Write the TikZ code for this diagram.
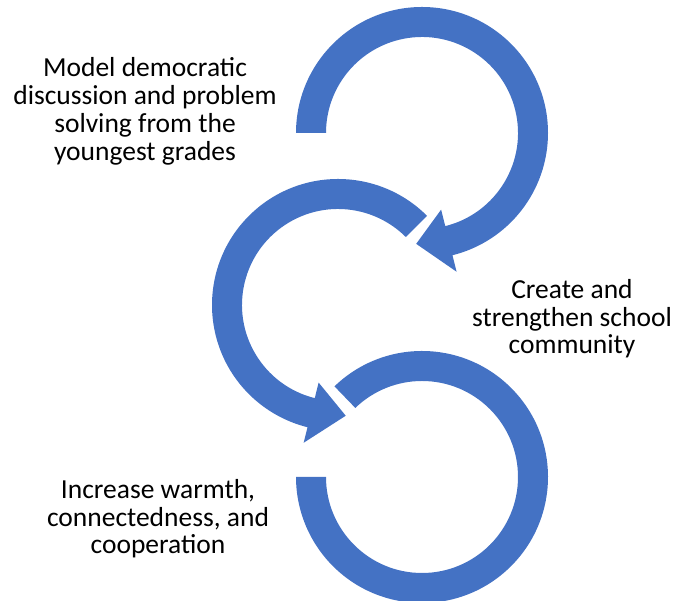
\documentclass[tikz,border=0pt]{standalone}
\usepackage{fontspec}
\setmainfont{Carlito}
\usepackage{tikz}
\usetikzlibrary{positioning}
\definecolor{loopblue}{HTML}{4472C4}
\tikzset{band/.style = {fill = loopblue, draw = none}}
\tikzset{label/.style = {align = center, inner sep = 0,
                         font = \fontsize{27.5}{27.8}\selectfont}}

\begin{document}
\begin{tikzpicture}[x = 1pt, y = 1pt]
    \useasboundingbox (0, 0) rectangle (675, 601);
    \coordinate (top) at (422, 468);
    \coordinate (mid) at (338, 296);
    \coordinate (low) at (422, 124);
    % upper loop, clockwise
    \begin{scope}[shift = {(top)}]
      \fill [band] (180:126) arc [start angle = 180, end angle = -76, radius = 126]
        -- (-76:143) -- (-93:111) -- (-76:79) -- (-76:96)
        arc [start angle = -76, end angle = 180, radius = 96] -- cycle;
    \end{scope}
    % middle loop, counter-clockwise
    \begin{scope}[shift = {(mid)}]
      \fill [band] (45:126) arc [start angle = 45, end angle = 256, radius = 126]
        -- (256:142) -- (274:111) -- (256:80) -- (256:96)
        arc [start angle = 256, end angle = 45, radius = 96] -- cycle;
    \end{scope}
    % lower loop
    \begin{scope}[shift = {(low)}]
      \fill [band] (134:126) arc [start angle = 134, end angle = -180, radius = 126]
        -- (180:96)
        arc [start angle = -180, end angle = 134, radius = 96] -- cycle;
    \end{scope}
    \node [label] (model) at (145, 489.7)
      {Model democratic\\discussion and problem\\solving from the\\youngest grades};
    \node [label] (create) at (572, 282.3)
      {Create and\\strengthen school\\community};
    \node [label] (increase) at (158, 82.3)
      {Increase warmth,\\connectedness, and\\cooperation};
  \end{tikzpicture}
\end{document}
